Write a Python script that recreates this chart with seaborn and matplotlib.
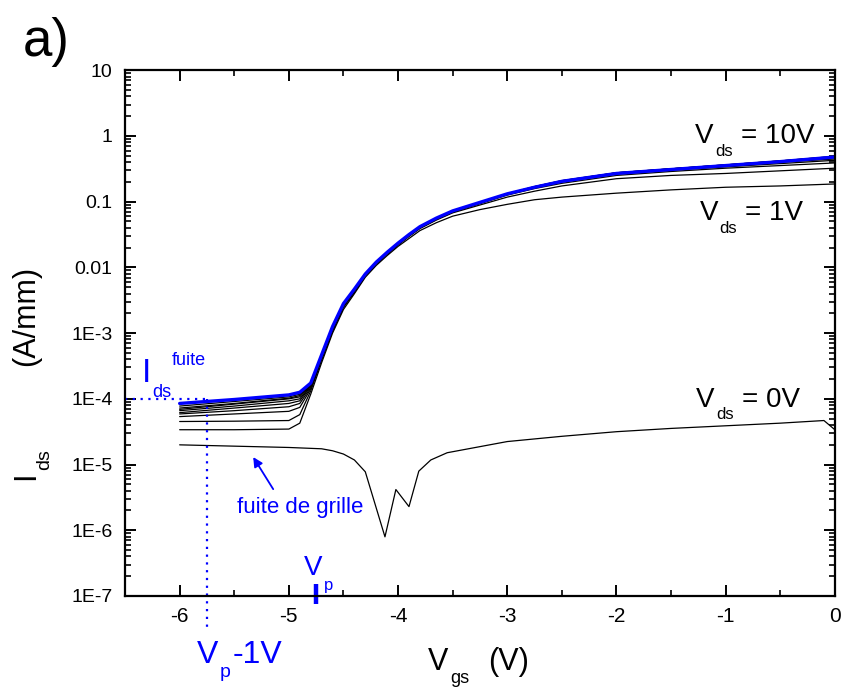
import numpy as np
import matplotlib
matplotlib.use("Agg")
import matplotlib.pyplot as plt
from matplotlib.ticker import FixedLocator, FixedFormatter, LogLocator, MultipleLocator, NullFormatter
import seaborn as sns

sns.set_style("ticks")
plt.rcParams['font.family'] = ['Liberation Sans', 'DejaVu Sans']
plt.rcParams['axes.unicode_minus'] = False
plt.rcParams['axes.edgecolor'] = 'black'
plt.rcParams['text.color'] = 'black'
plt.rcParams['xtick.color'] = 'black'
plt.rcParams['ytick.color'] = 'black'

# Vgs grid (V) shared by the Vds = 1..10 V sweeps
vgs = [-6.0, -5.5, -5.0, -4.9, -4.8, -4.7, -4.6, -4.5, -4.4, -4.3, -4.2, -4.1, -4.0,
       -3.9, -3.8, -3.65, -3.5, -3.25, -3.0, -2.75, -2.5, -2.0, -1.5, -1.0, -0.5, 0.0]

# log10(Ids) in A/mm
log_ids_vds1 = [-4.47, -4.47, -4.46, -4.37, -3.93, -3.45, -3.00, -2.64, -2.40, -2.15, -1.97, -1.82, -1.68,
                -1.56, -1.44, -1.32, -1.22, -1.12, -1.04, -0.97, -0.93, -0.87, -0.82, -0.78, -0.76, -0.73]
log_ids_vds2 = [-4.345, -4.34, -4.33, -4.24, -3.88, -3.41, -2.97, -2.61, -2.38, -2.13, -1.95, -1.80, -1.66,
                -1.53, -1.41, -1.28, -1.17, -1.05, -0.93, -0.84, -0.76, -0.65, -0.60, -0.57, -0.53, -0.49]
log_ids_vds3 = [-4.27, -4.23, -4.19, -4.13, -3.85, -3.39, -2.95, -2.59, -2.36, -2.12, -1.94, -1.79, -1.65,
                -1.52, -1.40, -1.27, -1.16, -1.03, -0.90, -0.80, -0.72, -0.60, -0.54, -0.49, -0.45, -0.41]
log_ids_vds4 = [-4.23, -4.18, -4.12, -4.07, -3.83, -3.37, -2.94, -2.58, -2.35, -2.11, -1.93, -1.78, -1.64,
                -1.51, -1.39, -1.26, -1.15, -1.02, -0.89, -0.79, -0.70, -0.58, -0.52, -0.47, -0.42, -0.37]
log_ids_vds5 = [-4.21, -4.14, -4.07, -4.03, -3.81, -3.36, -2.93, -2.57, -2.35, -2.11, -1.93, -1.78, -1.64,
                -1.51, -1.39, -1.26, -1.15, -1.02, -0.88, -0.78, -0.69, -0.57, -0.51, -0.46, -0.40, -0.35]
log_ids_vds6 = [-4.18, -4.11, -4.03, -4.00, -3.80, -3.35, -2.92, -2.57, -2.34, -2.10, -1.93, -1.77, -1.63,
                -1.50, -1.39, -1.26, -1.14, -1.01, -0.88, -0.78, -0.69, -0.57, -0.50, -0.45, -0.39, -0.33]
log_ids_vds7 = [-4.16, -4.08, -4.00, -3.97, -3.79, -3.35, -2.92, -2.56, -2.34, -2.10, -1.92, -1.77, -1.63,
                -1.50, -1.38, -1.25, -1.14, -1.01, -0.88, -0.78, -0.69, -0.56, -0.50, -0.44, -0.38, -0.32]
log_ids_vds8 = [-4.14, -4.07, -3.99, -3.95, -3.78, -3.34, -2.91, -2.56, -2.33, -2.10, -1.92, -1.77, -1.63,
                -1.50, -1.38, -1.25, -1.14, -1.01, -0.88, -0.77, -0.68, -0.56, -0.50, -0.44, -0.38, -0.31]
log_ids_vds9 = [-4.11, -4.04, -3.97, -3.93, -3.77, -3.34, -2.91, -2.55, -2.33, -2.10, -1.92, -1.77, -1.63,
                -1.50, -1.38, -1.25, -1.14, -1.01, -0.88, -0.77, -0.68, -0.56, -0.50, -0.44, -0.38, -0.31]
log_ids_vds10 = [-4.07, -4.01, -3.94, -3.90, -3.76, -3.33, -2.90, -2.55, -2.33, -2.10, -1.92, -1.77, -1.63,
                 -1.50, -1.38, -1.25, -1.14, -1.01, -0.88, -0.78, -0.69, -0.57, -0.51, -0.45, -0.39, -0.32]

# Vds = 0 V sweep (gate leakage), own grid
vgs_vds0 = [-6.0, -5.0, -4.7, -4.6, -4.5, -4.4, -4.3, -4.12, -4.02, -3.9, -3.81,
            -3.7, -3.55, -3.0, -2.5, -2.0, -1.5, -1.0, -0.5, -0.1, 0.0]
log_ids_vds0 = [-4.70, -4.74, -4.76, -4.79, -4.84, -4.93, -5.11, -6.10, -5.38, -5.64, -5.10,
                -4.93, -4.82, -4.65, -4.57, -4.50, -4.45, -4.41, -4.37, -4.33, -4.47]

black_sweeps = [log_ids_vds1, log_ids_vds2, log_ids_vds3, log_ids_vds4, log_ids_vds5,
                log_ids_vds6, log_ids_vds7, log_ids_vds8, log_ids_vds9]

vp = -4.75          # pinch-off voltage
i_leak = 1e-4       # Ids fuite level

x_ticks = [-6, -5, -4, -3, -2, -1, 0]
x_labels = ["-6", "-5", "-4", "-3", "-2", "-1", "0"]
y_ticks = [1e1, 1e0, 1e-1, 1e-2, 1e-3, 1e-4, 1e-5, 1e-6, 1e-7]
y_labels = ["10", "1", "0.1", "0.01", "1E-3", "1E-4", "1E-5", "1E-6", "1E-7"]

blue = "#0000ff"

fig = plt.figure(figsize=(8.45, 6.89), dpi=100)
ax = fig.add_axes([0.148, 0.135, 0.84, 0.763])

sns.lineplot(x=vgs_vds0, y=10 ** np.array(log_ids_vds0), color="black", lw=0.9, sort=False, ax=ax)
for sweep in black_sweeps:
    sns.lineplot(x=vgs, y=10 ** np.array(sweep), color="black", lw=0.9, sort=False, ax=ax)
sns.lineplot(x=vgs, y=10 ** np.array(log_ids_vds10), color=blue, lw=2.4, sort=False, ax=ax)

ax.set_yscale("log")
ax.set_xlim(-6.5, 0)
ax.set_ylim(1e-7, 10)
ax.xaxis.set_major_locator(FixedLocator(x_ticks))
ax.xaxis.set_major_formatter(FixedFormatter(x_labels))
ax.xaxis.set_minor_locator(MultipleLocator(0.5))
ax.yaxis.set_major_locator(FixedLocator(y_ticks))
ax.yaxis.set_major_formatter(FixedFormatter(y_labels))
ax.yaxis.set_minor_locator(LogLocator(base=10, subs=np.arange(2, 10), numticks=20))
ax.yaxis.set_minor_formatter(NullFormatter())
ax.tick_params(which="both", direction="in", top=True, right=True)
ax.tick_params(which="major", length=8, width=1.4)
ax.tick_params(which="minor", length=4.5, width=1.2)
ax.tick_params(axis="x", pad=8, labelsize=15)
ax.tick_params(axis="y", pad=9, labelsize=14)
for sp in ax.spines.values():
    sp.set_linewidth(1.6)

# Vp - 1V dotted guides
ax.plot([-6.5, vp - 1], [i_leak, i_leak], color=blue, lw=1.6, ls=(0, (1, 2.5)))
ax.plot([vp - 1, vp - 1], [i_leak, 3.3e-8], color=blue, lw=1.6, ls=(0, (1, 2.5)), clip_on=False)
# Vp mark on the axis
ax.plot([vp, vp], [1.5e-7, 7.6e-8], color=blue, lw=3.2, clip_on=False, solid_capstyle="butt")


def chain(first, parts, color, rotation=0):
    prev = first
    for s, size, dx, dy in parts:
        if rotation == 0:
            prev = ax.annotate(s, xy=(1, 0), xycoords=(prev, first), xytext=(dx, dy),
                               textcoords="offset points", fontsize=size, color=color,
                               ha="left", va="bottom", annotation_clip=False)
        else:
            prev = ax.annotate(s, xy=(1, 1), xycoords=(first, prev), xytext=(dx, dy),
                               textcoords="offset points", fontsize=size, color=color,
                               rotation=90, ha="right", va="bottom", annotation_clip=False)
    return prev


# Vds labels
for x0, y0, txt in [(-1.28, 10 ** -0.11, "= 10V"), (-1.24, 10 ** -1.28, "= 1V"),
                    (-1.27, 10 ** -4.12, "= 0V")]:
    t = ax.text(x0, y0, "V", fontsize=20, va="baseline")
    chain(t, [("ds", 12, 1, -7), (txt, 20, 6, 0)], "black")

# Ids fuite
t = ax.text(-6.348, 10 ** -3.74, "I", fontsize=24, color=blue, va="baseline", clip_on=False)
chain(t, [("ds", 13, 1, -9), ("fuite", 13, 0, 14)], blue)

# gate leakage
ax.text(-5.478, 10 ** -5.73, "fuite de grille", fontsize=16, color=blue, va="baseline")
ax.annotate("", xy=(-5.34, 10 ** -4.85), xytext=(-5.13, 10 ** -5.41),
            arrowprops=dict(arrowstyle="-|>", color=blue, lw=1.3, mutation_scale=14))

# Vp
t = ax.text(vp - 0.11, 10 ** -6.68, "V", fontsize=20, color=blue, va="baseline", clip_on=False)
chain(t, [("p", 12, 1, -9)], blue)

# Vp - 1V
t = ax.text(vp - 1.09, 10 ** -8.02, "V", fontsize=23, color=blue, va="baseline", clip_on=False)
chain(t, [("p", 14, 1, -8), ("-1V", 23, 1, 0)], blue)

# axis labels
t = fig.text(428 / 845, 1 - 670 / 689, "V", fontsize=22, va="baseline")
chain(t, [("gs", 13, 1, -7), ("(V)", 22, 14, 0)], "black")

t = fig.text(41 / 845, 1 - 480 / 689, "I", fontsize=22, rotation=90, ha="right", va="bottom")
chain(t, [("ds", 14, 9, 1), ("(A/mm)", 22, 0, 60)], "black", rotation=90)

fig.text(23 / 845, 1 - 56 / 689, "a)", fontsize=38, va="baseline")

fig.savefig("out.png", dpi=100)
